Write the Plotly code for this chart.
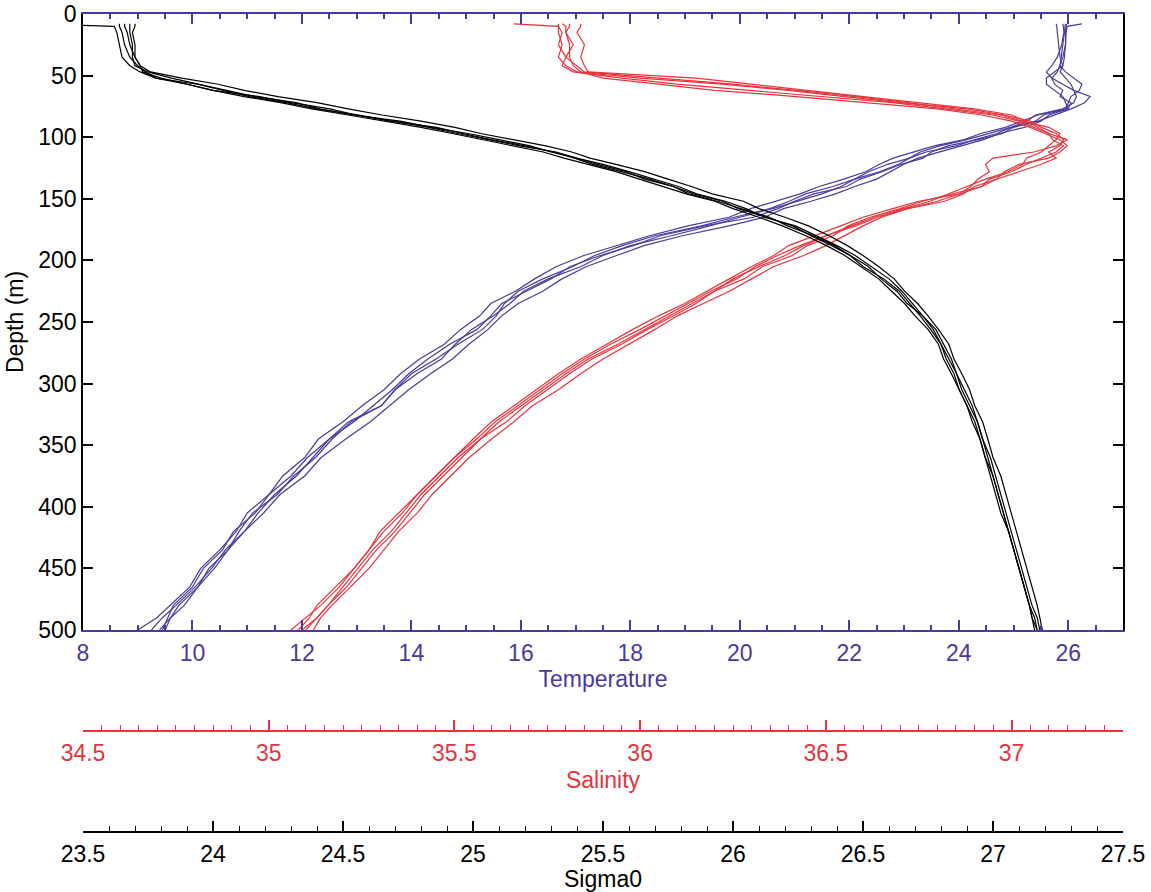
import plotly.graph_objects as go

DEPTH = [8, 10, 15, 25, 35, 42, 47, 52, 57, 62, 67, 72, 77, 82, 87, 92, 97, 102, 107, 112,
         117, 122, 128, 134, 140, 146, 152, 158, 165, 172, 180, 188, 196, 205, 215, 225, 235,
         245, 256, 268, 280, 292, 305, 318, 331, 345, 360, 375, 390, 405, 420, 435, 450, 465,
         480, 490, 500]

TEMP_1 = [26.25, 25.98, 25.96, 25.95, 25.9, 25.85, 25.8, 25.7, 25.75, 25.9, 25.85, 26.05, 26.0,
          25.65, 25.5, 25.2, 24.75, 24.45, 24.05, 23.65, 23.25, 23.0, 22.75, 22.5, 22.1, 21.75,
          21.3, 20.8, 20.45, 19.8, 18.95, 18.25, 17.75, 17.2, 16.75, 16.4, 15.95, 15.65, 15.4,
          15.05, 14.75, 14.35, 13.95, 13.6, 13.25, 12.8, 12.35, 12.05, 11.6, 11.3, 10.95, 10.65,
          10.4, 10.1, 9.75, 9.6, 9.5]
TEMP_2 = [25.95, 25.94, 25.93, 25.9, 25.88, 25.85, 25.95, 26.1, 26.25, 26.2, 26.05, 26.0, 25.95,
          25.45, 25.15, 24.85, 24.4, 24.1, 23.55, 23.15, 22.8, 22.55, 22.3, 21.9, 21.45, 21.1,
          20.65, 20.2, 19.8, 19.05, 18.35, 17.75, 17.15, 16.65, 16.25, 15.9, 15.45, 15.25, 14.9,
          14.6, 14.15, 13.8, 13.5, 13.1, 12.75, 12.3, 12.05, 11.65, 11.4, 11.0, 10.8, 10.5,
          10.15, 9.95, 9.6, 9.35, 9.0]
TEMP_3 = [25.78, 25.79, 25.8, 25.82, 25.85, 25.9, 25.75, 25.6, 25.6, 25.75, 25.9, 25.95, 26.0,
          25.55, 25.4, 24.95, 24.7, 24.3, 23.95, 23.4, 23.1, 22.9, 22.55, 22.1, 21.85, 21.5,
          21.05, 20.6, 20.0, 19.45, 18.75, 18.0, 17.5, 17.1, 16.5, 16.05, 15.8, 15.5, 15.1,
          14.8, 14.55, 14.1, 13.7, 13.45, 12.9, 12.55, 12.25, 11.85, 11.55, 11.1, 10.85, 10.65,
          10.3, 10.1, 9.85, 9.6, 9.4]
TEMP_4 = [25.9, 25.91, 25.92, 25.88, 25.8, 25.7, 25.6, 25.7, 25.9, 26.1, 26.4, 26.3, 26.05,
          25.75, 25.45, 25.0, 24.8, 24.35, 23.8, 23.5, 23.35, 22.95, 22.6, 22.2, 21.95, 21.35,
          21.0, 20.7, 20.25, 19.35, 18.55, 18.05, 17.45, 16.9, 16.55, 16.1, 15.65, 15.45, 15.2,
          14.7, 14.3, 13.95, 13.65, 13.3, 12.95, 12.5, 12.2, 11.9, 11.5, 11.2, 10.95, 10.6,
          10.35, 10.05, 9.7, 9.45, 9.25]
TEMP_5 = [25.97, 25.96, 25.95, 25.95, 25.93, 25.9, 25.85, 25.95, 26.05, 26.1, 26.15, 26.1, 25.9,
          25.4, 25.25, 24.95, 24.55, 24.15, 23.65, 23.3, 23.1, 22.7, 22.35, 22.1, 21.7, 21.2,
          20.9, 20.55, 19.9, 19.3, 18.45, 17.85, 17.35, 16.95, 16.4, 15.95, 15.7, 15.55, 15.3,
          14.85, 14.45, 14.0, 13.7, 13.45, 12.85, 12.5, 12.1, 11.8, 11.4, 11.15, 10.75, 10.55,
          10.2, 10.0, 9.65, 9.55, 9.45]

SAL_1 = [35.66, 35.78, 35.78, 35.79, 35.78, 35.8, 35.83, 36.0, 36.22, 36.4, 36.55, 36.7, 36.88,
         36.98, 37.05, 37.08, 37.12, 37.14, 37.13, 37.1, 37.12, 37.08, 37.02, 36.96, 36.9, 36.87,
         36.82, 36.72, 36.65, 36.6, 36.55, 36.5, 36.44, 36.36, 36.3, 36.24, 36.17, 36.1, 36.04,
         35.97, 35.9, 35.84, 35.78, 35.71, 35.66, 35.6, 35.54, 35.49, 35.44, 35.4, 35.35, 35.31,
         35.27, 35.22, 35.17, 35.14, 35.12]
SAL_2 = [35.78, 35.78, 35.79, 35.78, 35.8, 35.79, 35.82, 35.95, 36.1, 36.3, 36.5, 36.68, 36.82,
         36.95, 37.02, 37.06, 37.1, 37.15, 37.12, 37.06, 36.95, 36.93, 36.94, 36.91, 36.89, 36.86,
         36.75, 36.68, 36.6, 36.54, 36.47, 36.4, 36.36, 36.3, 36.24, 36.18, 36.12, 36.05, 35.98,
         35.91, 35.84, 35.78, 35.72, 35.66, 35.6, 35.55, 35.5, 35.45, 35.4, 35.35, 35.3, 35.27,
         35.23, 35.19, 35.14, 35.1, 35.06]
SAL_3 = [35.84, 35.84, 35.83, 35.85, 35.84, 35.85, 35.86, 36.15, 36.3, 36.45, 36.6, 36.75, 36.9,
         37.0, 37.04, 37.07, 37.1, 37.11, 37.14, 37.12, 37.08, 37.04, 37.0, 36.94, 36.92, 36.84,
         36.76, 36.7, 36.62, 36.56, 36.52, 36.45, 36.41, 36.33, 36.28, 36.2, 36.14, 36.08, 36.01,
         35.94, 35.86, 35.8, 35.74, 35.68, 35.62, 35.57, 35.51, 35.46, 35.41, 35.37, 35.33, 35.28,
         35.24, 35.2, 35.16, 35.13, 35.09]
SAL_4 = [35.79, 35.8, 35.8, 35.81, 35.81, 35.82, 35.84, 35.9, 36.05, 36.2, 36.42, 36.6, 36.8,
         36.92, 37.0, 37.05, 37.09, 37.13, 37.15, 37.13, 37.1, 37.02, 36.98, 36.96, 36.92, 36.86,
         36.8, 36.72, 36.64, 36.58, 36.5, 36.43, 36.37, 36.31, 36.26, 36.19, 36.13, 36.07, 36.0,
         35.92, 35.85, 35.79, 35.73, 35.67, 35.61, 35.56, 35.5, 35.45, 35.4, 35.36, 35.31, 35.27,
         35.23, 35.18, 35.13, 35.11, 35.08]
SAL_5 = [35.81, 35.81, 35.8, 35.82, 35.8, 35.83, 35.85, 36.05, 36.25, 36.42, 36.58, 36.72, 36.85,
         36.97, 37.03, 37.1, 37.13, 37.12, 37.1, 37.08, 37.04, 37.03, 36.99, 36.93, 36.88, 36.83,
         36.78, 36.71, 36.63, 36.57, 36.5, 36.44, 36.39, 36.32, 36.25, 36.2, 36.15, 36.09, 36.02,
         35.95, 35.87, 35.81, 35.75, 35.69, 35.64, 35.57, 35.52, 35.47, 35.42, 35.38, 35.34, 35.29,
         35.25, 35.21, 35.16, 35.13, 35.1]

SIG_1 = [23.3, 23.62, 23.63, 23.64, 23.65, 23.68, 23.72, 23.78, 23.9, 24.0, 24.12, 24.26, 24.38,
         24.52, 24.66, 24.8, 24.92, 25.04, 25.16, 25.27, 25.35, 25.44, 25.55, 25.64, 25.73, 25.82,
         25.93, 26.0, 26.1, 26.19, 26.28, 26.36, 26.43, 26.49, 26.56, 26.61, 26.66, 26.7, 26.75,
         26.79, 26.81, 26.84, 26.87, 26.9, 26.92, 26.95, 26.97, 26.99, 27.01, 27.03, 27.06, 27.08,
         27.1, 27.12, 27.14, 27.15, 27.16]
SIG_2 = [23.66, 23.66, 23.67, 23.68, 23.7, 23.72, 23.76, 23.88, 24.02, 24.12, 24.25, 24.4, 24.52,
         24.65, 24.8, 24.93, 25.03, 25.15, 25.28, 25.38, 25.45, 25.55, 25.66, 25.75, 25.84, 25.92,
         26.04, 26.1, 26.2, 26.29, 26.37, 26.44, 26.5, 26.56, 26.62, 26.66, 26.71, 26.75, 26.79,
         26.83, 26.85, 26.88, 26.91, 26.93, 26.96, 26.98, 27.0, 27.03, 27.05, 27.07, 27.09, 27.11,
         27.13, 27.15, 27.17, 27.18, 27.19]
SIG_3 = [23.7, 23.7, 23.69, 23.7, 23.7, 23.72, 23.73, 23.8, 23.9, 24.0, 24.18, 24.3, 24.45,
         24.55, 24.68, 24.86, 24.96, 25.07, 25.2, 25.31, 25.39, 25.46, 25.57, 25.68, 25.77, 25.83,
         25.94, 26.03, 26.14, 26.21, 26.31, 26.39, 26.45, 26.52, 26.57, 26.63, 26.67, 26.73, 26.77,
         26.8, 26.83, 26.86, 26.88, 26.91, 26.94, 26.96, 26.98, 27.0, 27.02, 27.04, 27.06, 27.08,
         27.1, 27.12, 27.14, 27.16, 27.17]
SIG_4 = [23.68, 23.68, 23.68, 23.69, 23.69, 23.7, 23.75, 23.84, 23.95, 24.06, 24.16, 24.32, 24.41,
         24.54, 24.72, 24.84, 24.98, 25.1, 25.22, 25.3, 25.4, 25.5, 25.6, 25.7, 25.79, 25.86,
         25.97, 26.05, 26.12, 26.24, 26.32, 26.4, 26.47, 26.53, 26.6, 26.65, 26.69, 26.73, 26.78,
         26.81, 26.84, 26.86, 26.89, 26.92, 26.94, 26.96, 26.99, 27.01, 27.03, 27.05, 27.07, 27.09,
         27.11, 27.13, 27.15, 27.17, 27.18]
SIG_5 = [23.64, 23.64, 23.65, 23.66, 23.68, 23.71, 23.74, 23.78, 23.94, 24.04, 24.14, 24.28, 24.4,
         24.56, 24.7, 24.83, 24.94, 25.06, 25.18, 25.32, 25.4, 25.48, 25.59, 25.66, 25.77, 25.85,
         25.96, 26.02, 26.13, 26.23, 26.3, 26.38, 26.45, 26.5, 26.58, 26.64, 26.68, 26.72, 26.76,
         26.8, 26.82, 26.85, 26.87, 26.9, 26.93, 26.95, 26.97, 27.0, 27.02, 27.04, 27.06, 27.08,
         27.1, 27.12, 27.14, 27.15, 27.17]

TEMPS = [TEMP_1, TEMP_2, TEMP_3, TEMP_4, TEMP_5]
SALS = [SAL_1, SAL_2, SAL_3, SAL_4, SAL_5]
SIGS = [SIG_1, SIG_2, SIG_3, SIG_4, SIG_5]

BLUE = "#4b3a9c"
RED = "#e8323c"
BLACK = "#000000"
FONT = "Liberation Sans, Arial, Helvetica, sans-serif"
FS = 23

fig = go.Figure()
for t in TEMPS:
    fig.add_trace(go.Scatter(x=t, y=DEPTH, xaxis="x", yaxis="y", mode="lines",
                             line=dict(color=BLUE, width=1.2), showlegend=False))
for s in SALS:
    fig.add_trace(go.Scatter(x=s, y=DEPTH, xaxis="x2", yaxis="y", mode="lines",
                             line=dict(color=RED, width=1.2), showlegend=False))
for g in SIGS:
    fig.add_trace(go.Scatter(x=g, y=DEPTH, xaxis="x3", yaxis="y", mode="lines",
                             line=dict(color=BLACK, width=1.2), showlegend=False))

TOP = 14
paper_h = 832 - TOP
plot_bottom = (832 - 630) / paper_h
sal_pos = (832 - 731) / paper_h

fig.update_layout(
    width=1151, height=892,
    margin=dict(l=83, r=28, t=TOP, b=60, autoexpand=False),
    paper_bgcolor="white", plot_bgcolor="white",
    font=dict(family=FONT, size=FS, color=BLACK),
    showlegend=False,
    yaxis=dict(
        domain=[plot_bottom, 1], range=[500, 0], tickmode="linear", tick0=0, dtick=50,
        ticks="inside", ticklen=10, tickwidth=1.5, tickcolor=BLACK,
        showline=True, linecolor=BLACK, linewidth=1.5, mirror="ticks",
        showgrid=False, zeroline=False, automargin=False, ticklabeloverflow="allow",
        title=dict(text="Depth (m)", font=dict(size=FS, color=BLACK), standoff=8),
        tickfont=dict(size=FS, color=BLACK),
    ),
    xaxis=dict(
        range=[8, 27], tickmode="linear", tick0=8, dtick=2,
        ticks="inside", ticklen=10, tickwidth=1.5, tickcolor=BLUE,
        minor=dict(dtick=0.5, tick0=8, ticks="inside", ticklen=5, tickwidth=1.5,
                   tickcolor=BLUE, showgrid=False),
        showline=True, linecolor=BLUE, linewidth=2, mirror="ticks",
        showgrid=False, zeroline=False, automargin=False, ticklabelstandoff=1,
        ticklabeloverflow="allow",
        tickfont=dict(size=FS, color=BLUE),
        title=dict(text="Temperature", font=dict(size=FS, color=BLUE), standoff=6),
    ),
    xaxis2=dict(
        overlaying="x", anchor="free", position=sal_pos, side="bottom",
        range=[34.5, 37.3], tickmode="linear", tick0=34.5, dtick=0.5,
        ticks="inside", ticklen=10, tickwidth=1.5, tickcolor=RED,
        minor=dict(dtick=0.05, tick0=34.5, ticks="inside", ticklen=5, tickwidth=1.2,
                   tickcolor=RED, showgrid=False),
        showline=True, linecolor=RED, linewidth=1.5,
        showgrid=False, zeroline=False, automargin=False, ticklabelstandoff=2,
        ticklabeloverflow="allow",
        tickfont=dict(size=FS, color=RED),
        title=dict(text="Salinity", font=dict(size=FS, color=RED), standoff=6),
    ),
    xaxis3=dict(
        overlaying="x", anchor="free", position=0, side="bottom",
        range=[23.5, 27.5], tickmode="linear", tick0=23.5, dtick=0.5,
        ticks="inside", ticklen=10, tickwidth=1.5, tickcolor=BLACK,
        minor=dict(dtick=0.1, tick0=23.5, ticks="inside", ticklen=5, tickwidth=1.2,
                   tickcolor=BLACK, showgrid=False),
        showline=True, linecolor=BLACK, linewidth=1.5,
        showgrid=False, zeroline=False, automargin=False, ticklabelstandoff=2,
        ticklabeloverflow="allow",
        tickfont=dict(size=FS, color=BLACK),
        title=dict(text="Sigma0", font=dict(size=FS, color=BLACK), standoff=7),
    ),
)

fig.write_html("out.html")
